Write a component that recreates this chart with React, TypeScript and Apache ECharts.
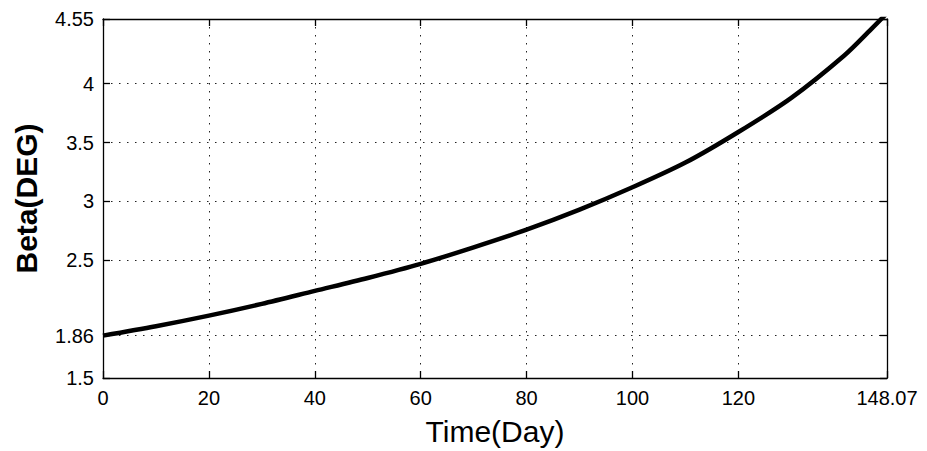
import React, { useEffect, useRef } from "react";
import * as echarts from "echarts";

const days = [0, 10, 20, 30, 40, 50, 60, 70, 80, 90, 100, 110, 120, 130, 140, 145, 148.07];
const beta = [1.86, 1.94, 2.03, 2.13, 2.24, 2.35, 2.47, 2.61, 2.76, 2.93, 3.12, 3.33, 3.59, 3.88, 4.24, 4.46, 4.6];
const xTicks = [0, 20, 40, 60, 80, 100, 120, 148.07];
const yTicks = [1.5, 1.86, 2.5, 3, 3.5, 4, 4.55];
const xMin = 0, xMax = 148.07, yMin = 1.5, yMax = 4.55;

const FONT = "'Liberation Sans', Arial, sans-serif";

export default function App() {
  const ref = useRef<HTMLDivElement>(null);
  useEffect(() => {
    const chart = echarts.init(ref.current!, null, { renderer: "svg" });
    const dotted = { type: [1.5, 6.5] as any, color: "#222", width: 1 };
    const lineStyle = { color: "#000", width: 1.3 };
    chart.setOption({
      animation: false,
      backgroundColor: "#fff",
      grid: { left: 103, right: 40, top: 19, bottom: 72, containLabel: false },
      xAxis: [
        {
          type: "value", min: xMin, max: xMax, position: "bottom",
          name: "Time(Day)", nameLocation: "middle", nameGap: 38,
          nameTextStyle: { fontFamily: FONT, fontSize: 30, color: "#000" },
          axisLine: { show: true, onZero: false, lineStyle },
          axisTick: { show: true, inside: true, length: 7, customValues: xTicks, lineStyle },
          axisLabel: { customValues: xTicks, fontFamily: FONT, fontSize: 20, color: "#000", margin: 10,
            formatter: (v: number) => String(v) },
          splitLine: { show: true, lineStyle: dotted },
        },
        {
          type: "value", min: xMin, max: xMax, position: "top",
          axisLine: { show: true, onZero: false, lineStyle },
          axisTick: { show: true, inside: true, length: 7, customValues: xTicks, lineStyle },
          axisLabel: { show: false },
          splitLine: { show: false },
        },
      ],
      yAxis: [
        {
          type: "value", min: yMin, max: yMax, position: "left",
          name: "Beta(DEG)", nameLocation: "middle", nameGap: 62,
          nameTextStyle: { fontFamily: FONT, fontSize: 30, fontWeight: "bold", color: "#000" },
          axisLine: { show: true, onZero: false, lineStyle },
          axisTick: { show: true, inside: true, length: 7, customValues: yTicks, lineStyle },
          axisLabel: { customValues: yTicks, fontFamily: FONT, fontSize: 20, color: "#000", margin: 9,
            formatter: (v: number) => String(v) },
          splitLine: { show: true, lineStyle: dotted },
        },
        {
          type: "value", min: yMin, max: yMax, position: "right",
          axisLine: { show: true, onZero: false, lineStyle },
          axisTick: { show: true, inside: true, length: 7, customValues: yTicks, lineStyle },
          axisLabel: { show: false },
          splitLine: { show: false },
        },
      ],
      series: [
        {
          type: "line",
          data: days.map((d, i) => [d, beta[i]]),
          smooth: 0.3,
          showSymbol: false,
          lineStyle: { color: "#000", width: 4.5 },
          clip: true,
        },
      ],
    });
    return () => chart.dispose();
  }, []);
  return <div ref={ref} style={{ width: 927, height: 451, position: "absolute", left: 0, top: 0 }} />;
}
